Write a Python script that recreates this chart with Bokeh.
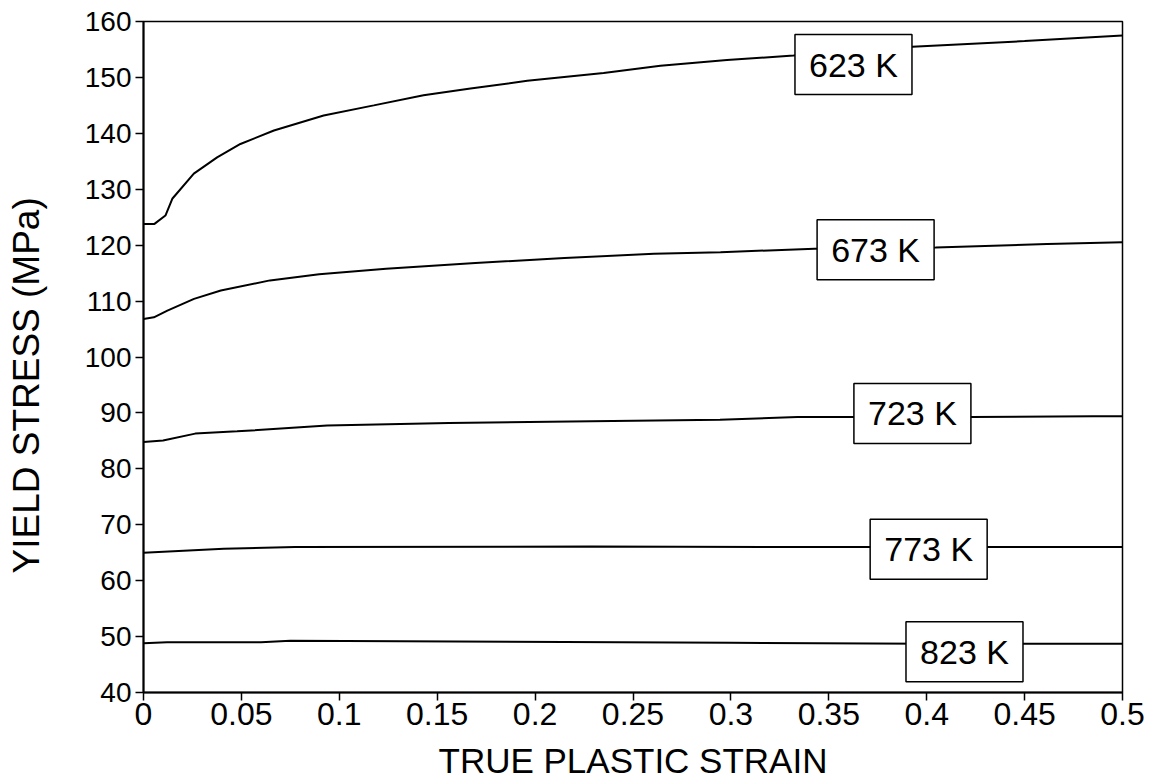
from bokeh.plotting import figure
from bokeh.models import Range1d, FixedTicker, NumeralTickFormatter, ColumnDataSource, Title
from bokeh.core.properties import value
from bokeh.embed import file_html
from bokeh.resources import INLINE

# ---- data ----
strain_623 = [0.0, 0.0056, 0.0112, 0.0147, 0.0257, 0.0376, 0.0495, 0.0666, 0.092, 0.1176,
              0.143, 0.167, 0.196, 0.235, 0.264, 0.298, 0.332, 0.3926, 0.45, 0.5]
stress_623 = [123.8, 123.8, 125.3, 128.3, 132.8, 135.7, 138.1, 140.5, 143.2, 145.0,
              146.8, 148.0, 149.4, 150.8, 152.1, 153.1, 153.9, 155.5, 156.5, 157.5]

strain_673 = [0.0, 0.0053, 0.0122, 0.0258, 0.0395, 0.0646, 0.0897, 0.1239, 0.1695, 0.215,
              0.2607, 0.2947, 0.3427, 0.4045, 0.4615, 0.5]
stress_673 = [106.8, 107.1, 108.3, 110.4, 111.9, 113.7, 114.8, 115.8, 116.8, 117.7,
              118.45, 118.75, 119.35, 119.6, 120.2, 120.5]

strain_723 = [0.0, 0.01, 0.0264, 0.0478, 0.0938, 0.156, 0.2287, 0.2944, 0.334, 0.4227, 0.485, 0.5]
stress_723 = [84.8, 85.07, 86.3, 86.7, 87.75, 88.2, 88.5, 88.8, 89.25, 89.25, 89.4, 89.4]

strain_773 = [0.0, 0.041, 0.0774, 0.2287, 0.3696, 0.4326, 0.5]
stress_773 = [65.0, 65.7, 66.0, 66.1, 66.0, 66.0, 66.0]

strain_823 = [0.0, 0.012, 0.06, 0.075, 0.131, 0.3, 0.4, 0.5]
stress_823 = [48.8, 49.0, 49.0, 49.25, 49.15, 48.9, 48.7, 48.7]

label_text = ["623 K", "673 K", "723 K", "773 K", "823 K"]
label_x = [0.3626, 0.3739, 0.3927, 0.401, 0.4193]
label_y = [152.3, 119.2, 89.9, 65.6, 47.3]

x_ticks = [0, 0.05, 0.1, 0.15, 0.2, 0.25, 0.3, 0.35, 0.4, 0.45, 0.5]
y_ticks = [40, 50, 60, 70, 80, 90, 100, 110, 120, 130, 140, 150, 160]

x_title = "TRUE PLASTIC STRAIN"
y_title = "YIELD STRESS (MPa)"

FONT = "Liberation Sans"

p = figure(width=1152, height=784, x_range=Range1d(0, 0.5), y_range=Range1d(40, 160),
           output_backend="svg", toolbar_location=None,
           min_border_left=143, min_border_top=21, min_border_right=30, min_border_bottom=92)
p.xgrid.visible = False
p.ygrid.visible = False
p.outline_line_color = "black"
p.outline_line_width = 1.5
p.outline_line_alpha = 1.0
p.background_fill_color = "white"
p.border_fill_color = "white"

for xs, ys in [(strain_623, stress_623), (strain_673, stress_673), (strain_723, stress_723),
               (strain_773, stress_773), (strain_823, stress_823)]:
    p.line(xs, ys, line_color="black", line_width=2)

src = ColumnDataSource(dict(x=label_x, y=label_y, t=label_text))
p.rect(x="x", y="y", width=117, height=60, width_units="screen", height_units="screen",
       source=src, fill_color="white", line_color="black", line_width=1.5)
p.text(x="x", y="y", text="t", source=src, text_align="center", text_baseline="middle",
       text_font=value(FONT), text_font_size="34px", text_color="black")

p.xaxis.ticker = FixedTicker(ticks=x_ticks)
p.xaxis.formatter = NumeralTickFormatter(format="0.[00]")
p.yaxis.ticker = FixedTicker(ticks=y_ticks)
for ax in (p.xaxis, p.yaxis):
    ax.axis_line_color = "black"
    ax.axis_line_width = 2
    ax.major_tick_line_color = "black"
    ax.major_tick_line_width = 1.5
    ax.major_tick_out = 8
    ax.major_tick_in = 0
    ax.minor_tick_line_color = None
    ax.major_label_text_color = "black"
    ax.major_label_text_font = FONT
p.xaxis.major_label_text_font_size = "32px"
p.yaxis.major_label_text_font_size = "28px"
p.xaxis.major_label_standoff = 2
p.yaxis.major_label_standoff = 4

p.xaxis.axis_label = x_title
p.xaxis.axis_label_text_font = FONT
p.xaxis.axis_label_text_font_size = "35px"
p.xaxis.axis_label_text_font_style = "normal"
p.xaxis.axis_label_text_color = "black"
p.xaxis.axis_label_standoff = 13

# blank y-axis label only reserves a gap between the tick labels and the side title
p.yaxis.axis_label = " "
p.yaxis.axis_label_text_font_size = "1px"
p.yaxis.axis_label_standoff = 29

# y title sits below the frame centre in the reference -> side title with offset
p.add_layout(Title(text=y_title, align="left", offset=119, vertical_align="top", standoff=0,
                   text_font=FONT, text_font_size="37px", text_font_style="normal",
                   text_color="black"), "left")

open("out.html", "w").write(file_html(p, INLINE))
